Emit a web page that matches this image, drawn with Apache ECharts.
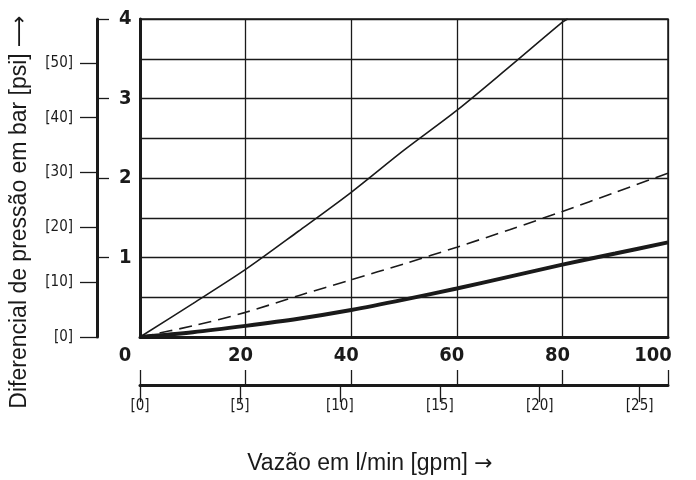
<!DOCTYPE html>
<html>
<head>
<meta charset="utf-8">
<script src="https://cdn.jsdelivr.net/npm/echarts@6/dist/echarts.min.js"></script>
<style>
  html, body { margin: 0; padding: 0; background: #fff; }
  #chart { width: 696px; height: 480px; }
</style>
</head>
<body>
<div id="chart"></div>
<script>
// vazão (l/min) e diferencial de pressão (bar)
const flowThin = [0, 10, 20, 30, 40, 50, 60, 70, 80, 81];
const dropThin = [0, 0.42, 0.85, 1.33, 1.82, 2.35, 2.85, 3.4, 3.96, 4.0];

const flowDashed = [0, 10, 20, 30, 40, 50, 60, 70, 80, 90, 100];
const dropDashed = [0, 0.14, 0.31, 0.52, 0.72, 0.92, 1.13, 1.35, 1.58, 1.82, 2.06];

const flowThick = [0, 10, 20, 30, 40, 50, 60, 70, 80, 90, 100];
const dropThick = [0, 0.06, 0.14, 0.23, 0.34, 0.47, 0.61, 0.76, 0.91, 1.05, 1.19];

const BAR_TO_PSI = 14.5038;
const GPM_TO_LMIN = 3.78541;
const barMax = 4;
const flowMax = 100;

const ink = '#1a1a1a';
const condensed = "'Liberation Sans Narrow', 'DejaVu Sans Condensed', sans-serif";
const titleRich = {
  t: { fontFamily: "'Liberation Sans', Arial, sans-serif", fontSize: 23, fill: ink, color: ink },
  a: { fontFamily: "'DejaVu Sans', sans-serif", fontSize: 22, fill: ink, color: ink }
};

function pairs(xs, ys) {
  return xs.map((x, i) => [x, ys[i]]);
}

const chart = echarts.init(document.getElementById('chart'));

const option = {
  animation: false,
  grid: {
    left: 140, right: 28, top: 19, bottom: 143,
    show: true, borderColor: ink, borderWidth: 1.5, backgroundColor: 'transparent'
  },
  xAxis: [
    { // l/min, eixo principal
      type: 'value', position: 'bottom', min: 0, max: flowMax, interval: 20,
      axisLine: { show: true, onZero: false, lineStyle: { color: ink, width: 3 } },
      axisTick: { show: false },
      splitLine: { show: true, lineStyle: { color: ink, width: 1.3 } },
      axisLabel: {
        margin: 9, color: ink, fontFamily: condensed, fontWeight: 'bold', fontSize: 20,
        formatter: v => v === 0 ? '{o|0}' : (v === 100 ? '{e|100}' : '{n|' + v + '}'),
        rich: {
          o: { padding: [0, 30, 0, 0], fontFamily: condensed, fontWeight: 'bold', fontSize: 20, color: ink },
          n: { padding: [0, 10, 0, 0], fontFamily: condensed, fontWeight: 'bold', fontSize: 20, color: ink },
          e: { padding: [0, 30, 0, 0], fontFamily: condensed, fontWeight: 'bold', fontSize: 20, color: ink }
        }
      }
    },
    { // régua l/min sobre a escala gpm
      type: 'value', position: 'bottom', offset: 48, min: 0, max: flowMax, interval: 20,
      axisLine: { show: true, onZero: false, lineStyle: { color: ink, width: 3 } },
      axisTick: { show: true, inside: true, length: 15, lineStyle: { color: ink, width: 1.3 } },
      axisLabel: { show: false },
      splitLine: { show: false }
    },
    { // gpm
      type: 'value', position: 'bottom', offset: 48, min: 0, max: flowMax / GPM_TO_LMIN, interval: 5,
      axisLine: { show: false, onZero: false },
      axisTick: { show: true, length: 17, lineStyle: { color: ink, width: 1.3 } },
      axisLabel: { margin: 14, color: ink, fontFamily: condensed, fontSize: 15, formatter: v => '[' + v + ']' },
      splitLine: { show: false }
    }
  ],
  yAxis: [
    { // bar, grade de 0,5
      type: 'value', position: 'left', min: 0, max: barMax, interval: 0.5,
      axisLine: { show: true, onZero: false, lineStyle: { color: ink, width: 3 } },
      axisTick: { show: false },
      axisLabel: { show: false },
      splitLine: { show: true, lineStyle: { color: ink, width: 1.3 } }
    },
    { // bar, escala com números
      type: 'value', position: 'left', offset: 43, min: 0, max: barMax, interval: 1,
      axisLine: { show: true, onZero: false, lineStyle: { color: ink, width: 3 } },
      axisTick: { show: true, inside: true, length: 12, lineStyle: { color: ink, width: 1.3 } },
      axisLabel: {
        inside: true, margin: 22, showMinLabel: false, color: ink,
        fontFamily: condensed, fontWeight: 'bold', fontSize: 20
      },
      splitLine: { show: false }
    },
    { // psi
      type: 'value', position: 'left', offset: 43, min: 0, max: barMax * BAR_TO_PSI, interval: 10,
      axisLine: { show: false, onZero: false },
      axisTick: { show: true, length: 17, lineStyle: { color: ink, width: 1.3 } },
      axisLabel: { margin: 24, showMaxLabel: false, color: ink, fontFamily: condensed, fontSize: 15, formatter: v => '[' + v + ']' },
      splitLine: { show: false }
    }
  ],
  graphic: [
    {
      type: 'text', x: 20, y: 212, rotation: Math.PI / 2,
      style: {
        text: '{t|Diferencial de pressão em bar [psi] }{a|⟶}',
        rich: titleRich, align: 'center', verticalAlign: 'middle'
      }
    },
    {
      type: 'text', x: 370, y: 464,
      style: {
        text: '{t|Vazão em l/min [gpm] }{a|→}',
        rich: titleRich, align: 'center', verticalAlign: 'middle'
      }
    }
  ],
  series: [
    {
      type: 'line', xAxisIndex: 0, yAxisIndex: 0, data: pairs(flowThin, dropThin),
      smooth: 0.3, showSymbol: false, lineStyle: { color: ink, width: 1.6 }
    },
    {
      type: 'line', xAxisIndex: 0, yAxisIndex: 0, data: pairs(flowDashed, dropDashed),
      smooth: 0.3, showSymbol: false, lineStyle: { color: ink, width: 1.6, type: [13, 7] }
    },
    {
      type: 'line', xAxisIndex: 0, yAxisIndex: 0, data: pairs(flowThick, dropThick),
      smooth: 0.3, showSymbol: false, lineStyle: { color: ink, width: 4 }
    }
  ]
};

chart.setOption(option);
</script>
</body>
</html>
